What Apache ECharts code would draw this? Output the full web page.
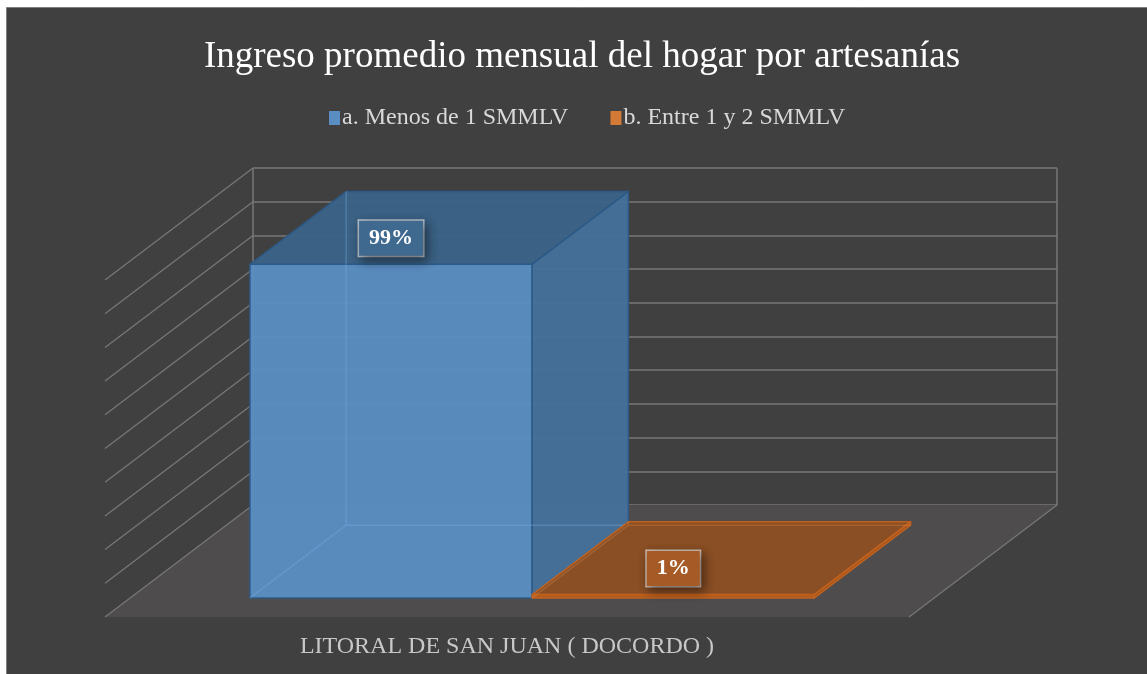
<!DOCTYPE html>
<html>
<head>
<meta charset="utf-8">
<script src="https://cdn.jsdelivr.net/npm/echarts@6/dist/echarts.min.js"></script>
<style>
  html, body { margin: 0; padding: 0; background: #fff; }
  #main { width: 1147px; height: 674px; }
</style>
</head>
<body>
<div id="main"></div>
<script>
const categories = ["LITORAL DE SAN JUAN ( DOCORDO )"];
const seriesNames = ["a. Menos de 1 SMMLV", "b. Entre 1 y 2 SMMLV"];
const menosDe1 = [99];
const entre1y2 = [1];
const yTicks = [0, 10, 20, 30, 40, 50, 60, 70, 80, 90, 100];

// fake 3d: depth vector from back wall to front of floor
const DX = -148, DY = 112;
const FRONT = 0.83, BACK = 0.18, BAR_FRAC = 0.351;
const P = (x, y, d) => [x + d * DX, y + d * DY];

const palettes = [
  { front: "#5a8ec3", top: "#3b6388", side: "#45719b", edge: "#2b5a88", labelBg: "#40698f", hidden: "rgba(120,175,230,0.35)" },
  { front: "#b65b1c", top: "#8d4f23", side: "#a4541c", edge: "#c4621c", labelBg: "#a65b27", hidden: "rgba(230,140,70,0.3)" },
];

function frameItem(params, api) {
  const base = api.coord([0, 0]);
  const band = api.size([1, 0])[0];
  const xl = base[0] - band / 2, xr = base[0] + band / 2, y0 = base[1];
  const yTop = api.coord([0, yTicks[yTicks.length - 1]])[1];
  const line = "#777777";
  const kids = [{
    type: "polygon",
    shape: { points: [P(xl, y0, 0), P(xr, y0, 0), P(xr, y0, 1), P(xl, y0, 1)] },
    style: { fill: "#4e4c4c" },
  }];
  yTicks.forEach(v => {
    const y = api.coord([0, v])[1];
    const a = P(xl, y, 0), b = P(xl, y, 1);
    kids.push({ type: "line", shape: { x1: a[0], y1: a[1], x2: b[0], y2: b[1] }, style: { stroke: line, lineWidth: 1.3 } });
  });
  const r0 = P(xr, y0, 0), r1 = P(xr, y0, 1);
  kids.push({ type: "line", shape: { x1: r0[0], y1: r0[1], x2: r1[0], y2: r1[1] }, style: { stroke: line, lineWidth: 1.3 } });
  kids.push({ type: "line", shape: { x1: xl, y1: y0, x2: xl, y2: yTop }, style: { stroke: line, lineWidth: 1.5 } });
  kids.push({ type: "line", shape: { x1: xr, y1: y0, x2: xr, y2: yTop }, style: { stroke: line, lineWidth: 1.5 } });
  const c = P(base[0], y0, 1);
  kids.push({
    type: "text",
    style: { text: categories[0], x: c[0], y: c[1] + 30, align: "center", verticalAlign: "middle",
      font: '24px "Liberation Serif"', fill: "#c8c8c8" },
  });
  return { type: "group", children: kids };
}

function barItem(idx) {
  const pal = palettes[idx];
  return function (params, api) {
    const cat = api.value(0), val = api.value(1);
    const base = api.coord([cat, 0]);
    const top = api.coord([cat, val]);
    const band = api.size([1, 0])[0];
    const w = band * BAR_FRAC;
    const x0 = base[0] + (idx - 1) * w, x1 = x0 + w;
    const yb = base[1], yt = top[1];
    const edge = { stroke: pal.edge, lineWidth: 1.5, lineJoin: "round" };
    const ft = P(x0, yt, FRONT);
    const kids = [
      { type: "polygon", shape: { points: [P(x0, yt, FRONT), P(x1, yt, FRONT), P(x1, yb, FRONT), P(x0, yb, FRONT)] },
        style: Object.assign({ fill: pal.front, opacity: 0.95 }, edge) },
      { type: "polygon", shape: { points: [P(x0, yt, FRONT), P(x1, yt, FRONT), P(x1, yt, BACK), P(x0, yt, BACK)] },
        style: Object.assign({ fill: pal.top, opacity: 0.95 }, edge) },
      { type: "polygon", shape: { points: [P(x1, yt, FRONT), P(x1, yb, FRONT), P(x1, yb, BACK), P(x1, yt, BACK)] },
        style: Object.assign({ fill: pal.side, opacity: 0.95 }, edge) },
      { type: "polyline", shape: { points: [P(x0, yb, FRONT), P(x0, yb, BACK), P(x1, yb, BACK)] },
        style: { stroke: pal.hidden, lineWidth: 1.5, fill: null } },
      { type: "line", shape: { x1: P(x0, yb, BACK)[0], y1: P(x0, yb, BACK)[1], x2: P(x0, yt, BACK)[0], y2: P(x0, yt, BACK)[1] },
        style: { stroke: pal.hidden, lineWidth: 1.5 } },
      {
        type: "text",
        z2: 10,
        style: {
          text: val + "%", x: ft[0] + w / 2, y: ft[1] - 26, align: "center", verticalAlign: "middle",
          font: 'bold 22px "Liberation Serif"', fill: "#ffffff",
          backgroundColor: pal.labelBg, borderColor: "rgba(225,225,225,0.75)", borderWidth: 1.5,
          padding: [7, 10, 6, 10],
          shadowColor: "rgba(0,0,0,0.45)", shadowBlur: 10, shadowOffsetX: 3, shadowOffsetY: 4,
        },
      },
    ];
    return { type: "group", children: kids };
  };
}

const chart = echarts.init(document.getElementById("main"));
chart.setOption({
  backgroundColor: "#ffffff",
  animation: false,
  graphic: [{
    type: "rect", z: -100, silent: true,
    shape: { x: 6.5, y: 7.5, width: 1150, height: 680 },
    style: { fill: "#404040", stroke: "#7f7f7f", lineWidth: 1 },
  }],
  title: {
    text: "Ingreso promedio mensual del hogar por artesanías",
    left: 582, top: 39, textAlign: "center", padding: 0,
    textStyle: { color: "#ffffff", fontFamily: "Liberation Serif", fontSize: 37, fontWeight: "normal" },
  },
  legend: {
    data: seriesNames,
    left: 324, top: 101, icon: "rect", itemWidth: 11, itemHeight: 14, itemGap: 42,
    textStyle: { color: "#d9d9d9", fontFamily: "Liberation Serif", fontSize: 24, padding: [0, 0, 0, -3] },
  },
  grid: { left: 253, right: 90, top: 168, bottom: 169 },
  xAxis: {
    type: "category", data: categories,
    axisLine: { show: false }, axisTick: { show: false }, axisLabel: { show: false },
  },
  yAxis: {
    type: "value", min: 0, max: 100, interval: 10,
    axisLine: { show: false }, axisTick: { show: false }, axisLabel: { show: false },
    splitLine: { lineStyle: { color: "#777777", width: 1.5 } },
  },
  series: [
    { type: "custom", name: "frame", silent: true, z: 1, renderItem: frameItem, data: [[0, 0]] },
    { type: "custom", name: seriesNames[0], z: 3, renderItem: barItem(0), itemStyle: { color: "#5a8ec3", borderColor: "#2b5a88" },
      data: menosDe1.map((v, i) => [i, v]) },
    { type: "custom", name: seriesNames[1], z: 4, renderItem: barItem(1), itemStyle: { color: "#d27a36", borderColor: "#9a4a14" },
      data: entre1y2.map((v, i) => [i, v]) },
  ],
});
</script>
</body>
</html>
